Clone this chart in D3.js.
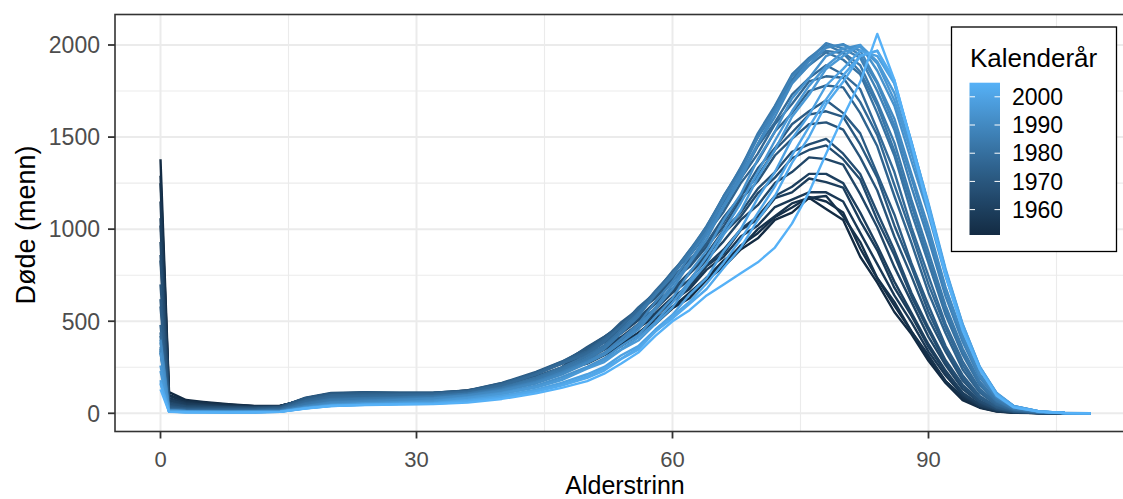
<!DOCTYPE html>
<html>
<head>
<meta charset="utf-8">
<script src="https://cdn.jsdelivr.net/npm/d3@7"></script>
<style>
  body { margin: 0; background: #fff; }
  svg { display: block; font-family: "Liberation Sans", Arial, Helvetica, sans-serif; }
</style>
</head>
<body>
<svg id="chart" width="1123" height="499"></svg>
<script>
// ages the values were read at
const ages = [0,1,3,5,8,11,14,17,20,24,28,32,36,40,44,47,
  50,52,54,56,58,60,62,64,66,68,70,72,74,76,78,80,82,84,86,88,90,92,94,96,98,100,
  103,106,109];

const years = [1951,1953,1954,1957,1959,1960,1963,1965,1966,1969,1971,1972,1975,1977,1978,
  1981,1983,1984,1987,1989,1990,1993,1995,1996,1999,2001,2002,2005];

// deaths (men) per age, one array per calendar year
const deaths1951 = [1380,115,72,62,50,40,40,72,95,100,98,105,125,150,195,235,
  270,315,365,425,485,570,625,725,795,890,950,1050,1090,1170,1110,1050,850,710,550,430,285,165,72,30,10,3, 1,0,0];
const deaths1953 = [1290,100,65,57,47,39,40,74,97,101,99,103,120,146,192,233,
  280,322,372,438,500,580,642,738,808,912,978,1065,1118,1175,1150,1090,895,732,585,445,300,175,82,33,11,4, 1,0,0];
const deaths1954 = [1250,95,62,55,45,38,40,75,98,100,98,102,118,145,190,232,
  285,325,385,435,515,575,655,735,830,900,1000,1070,1140,1170,1180,1070,930,735,605,445,315,175,88,34,12,4, 1,0,0];
const deaths1957 = [1150,82,55,48,40,35,38,76,100,102,100,102,115,140,185,228,
  295,345,395,465,525,610,675,780,850,960,1020,1120,1160,1200,1200,1150,980,810,640,495,335,205,98,41,14,5, 1,0,0];
const deaths1959 = [1060,72,49,44,37,34,37,77,101,104,101,103,114,140,185,228,
  312,356,408,480,536,625,686,800,868,995,1052,1168,1200,1275,1255,1225,1045,885,682,530,360,222,106,45,16,6, 1,0,0];
const deaths1960 = [1020,68,46,42,36,33,37,78,102,105,102,103,114,140,185,228,
  318,365,415,485,545,630,695,805,890,1000,1070,1180,1230,1300,1300,1250,1090,910,715,545,375,232,112,48,17,6, 1,0,0];
const deaths1963 = [930,58,40,37,33,31,36,80,105,108,105,106,116,142,190,235,
  338,385,435,505,565,655,725,835,935,1050,1130,1250,1310,1390,1380,1350,1190,1010,795,605,415,262,132,58,20,7, 2,0,0];
const deaths1965 = [860,52,36,34,31,30,35,81,107,110,107,107,117,146,196,244,
  348,388,458,508,595,662,758,848,978,1068,1195,1280,1385,1430,1455,1380,1270,1050,858,635,450,275,148,64,23,8, 2,0,0];
const deaths1966 = [830,48,34,32,30,29,35,82,108,112,108,108,118,150,200,250,
  352,395,465,515,605,675,765,865,995,1090,1220,1310,1420,1460,1490,1410,1300,1090,885,655,465,288,155,68,25,8, 2,0,0];
const deaths1969 = [700,40,28,27,26,26,33,85,110,115,112,112,122,160,215,268,
  360,415,475,555,625,725,795,905,1015,1160,1260,1400,1490,1570,1580,1540,1390,1210,960,745,515,335,178,80,30,10, 2,1,0];
const deaths1971 = [620,35,25,24,23,24,30,82,107,112,111,112,123,163,220,275,
  355,414,482,566,636,738,810,922,1038,1180,1290,1430,1525,1622,1640,1610,1460,1280,1020,795,550,355,193,88,33,11, 3,1,0];
const deaths1972 = [580,32,24,23,22,23,29,80,105,110,110,112,124,165,225,280,
  352,405,495,565,655,735,835,925,1065,1180,1330,1440,1570,1640,1700,1630,1520,1300,1080,815,585,365,207,94,36,12, 3,1,0];
const deaths1975 = [480,26,20,20,19,19,25,72,98,102,104,108,120,160,220,280,
  338,405,475,575,655,765,855,975,1095,1250,1370,1530,1630,1750,1780,1770,1630,1450,1180,925,655,435,238,113,44,15, 3,1,0];
const deaths1977 = [440,24,18,17,16,17,22,66,90,96,99,103,117,154,214,274,
  328,396,468,568,656,772,865,996,1118,1276,1410,1570,1680,1802,1830,1822,1690,1510,1240,978,700,465,260,124,50,17, 4,1,0];
const deaths1978 = [420,22,17,16,15,16,20,62,85,92,96,100,115,150,210,270,
  322,385,475,555,665,765,885,995,1150,1280,1450,1580,1730,1820,1890,1840,1760,1540,1310,1010,745,485,282,133,55,19, 4,1,0];
const deaths1981 = [360,19,14,13,12,13,17,55,78,84,88,94,108,140,195,250,
  312,368,455,545,655,755,885,1015,1180,1320,1500,1640,1800,1890,1960,1920,1840,1630,1400,1090,815,535,318,153,63,22, 5,1,0];
const deaths1983 = [340,18,13,12,11,12,15,49,73,79,84,90,106,136,186,240,
  300,360,438,540,645,758,872,1018,1172,1335,1500,1665,1810,1925,1968,1955,1855,1672,1425,1132,840,562,334,163,68,24, 5,1,0];
const deaths1984 = [330,17,12,11,10,11,14,45,70,76,82,88,104,132,180,232,
  292,348,435,525,645,745,875,1005,1180,1330,1520,1670,1840,1930,2000,1960,1890,1690,1470,1160,875,585,352,173,73,26, 6,1,0];
const deaths1987 = [350,16,11,10,9,10,12,40,62,70,76,84,100,128,172,222,
  282,328,405,485,605,715,855,985,1160,1310,1500,1650,1830,1920,2010,1980,1930,1750,1540,1230,945,635,388,193,83,30, 7,2,0];
const deaths1989 = [385,17,11,10,9,9,11,37,57,65,72,80,97,123,166,214,
  276,326,388,472,575,698,822,968,1128,1295,1465,1635,1795,1912,1985,2005,1945,1790,1565,1278,975,668,408,205,89,32, 8,2,0];
const deaths1990 = [400,17,11,10,9,9,11,36,55,63,70,78,95,120,162,210,
  272,318,385,455,565,675,815,945,1120,1270,1460,1610,1790,1890,1990,2000,1970,1800,1600,1300,1010,685,424,213,93,34, 8,2,0];
const deaths1993 = [330,14,10,9,8,8,10,32,48,56,62,70,88,112,150,196,
  252,298,365,425,525,625,765,885,1050,1190,1380,1530,1710,1820,1940,1980,2000,1860,1670,1370,1080,745,463,238,103,38, 9,2,0];
const deaths1995 = [260,13,9,8,7,7,9,31,46,54,58,65,83,108,144,186,
  246,290,348,412,495,602,720,850,992,1142,1310,1480,1640,1778,1885,1962,1990,1900,1700,1412,1100,768,474,248,107,39, 10,2,0];
const deaths1996 = [230,12,8,8,7,7,9,30,44,52,56,62,80,105,140,180,
  242,278,345,395,485,575,705,815,970,1100,1280,1430,1610,1730,1870,1940,2000,1910,1740,1430,1120,775,483,253,110,40, 10,2,0];
const deaths1999 = [180,10,7,7,6,7,9,28,42,48,52,56,72,95,128,165,
  212,252,315,365,455,535,645,735,880,1000,1170,1310,1490,1620,1780,1870,1970,1940,1790,1470,1140,785,485,253,106,38, 10,2,0];
const deaths2001 = [168,9,7,6,6,6,8,27,41,47,51,54,67,88,122,156,
  200,244,298,356,444,528,606,705,818,945,1088,1232,1400,1555,1705,1835,1942,1968,1792,1475,1130,775,473,248,103,36, 10,2,0];
const deaths2002 = [160,9,6,6,5,6,8,27,40,46,50,52,64,85,118,150,
  192,232,295,345,445,515,595,675,790,900,1050,1180,1360,1500,1680,1800,1940,1970,1810,1470,1130,765,468,243,101,35, 9,2,0];
const deaths2005 = [130,8,6,5,5,6,8,26,40,45,48,50,58,78,108,138,
  175,215,270,330,420,500,560,640,700,760,820,900,1030,1200,1410,1610,1800,2060,1810,1460,1100,750,450,240,95,32, 9,2,0];

const series = [deaths1951,deaths1953,deaths1954,deaths1957,deaths1959,deaths1960,deaths1963,
  deaths1965,deaths1966,deaths1969,deaths1971,deaths1972,deaths1975,deaths1977,deaths1978,
  deaths1981,deaths1983,deaths1984,deaths1987,deaths1989,deaths1990,deaths1993,deaths1995,
  deaths1996,deaths1999,deaths2001,deaths2002,deaths2005];

const xTicks = [0,30,60,90];
const xMinor = [15,45,75,105];
const yTicks = [0,500,1000,1500,2000];
const yMinor = [250,750,1250,1750];
const legendTicks = [1960,1970,1980,1990,2000];

// panel geometry (right edge runs past the picture)
const panel = {left: 115, top: 14.5, right: 1140, bottom: 431.5};

const svg = d3.select("#chart");
const x = d3.scaleLinear().domain([0, 90]).range([160.5, 928.5]);
const y = d3.scaleLinear().domain([0, 2000]).range([413.3, 45]);
const color = d3.scaleLinear().domain([1951, 2005])
  .range(["#132B43", "#56B1F7"]).interpolate(d3.interpolateLab);

svg.append("rect").attr("width", 1123).attr("height", 499).attr("fill", "#fff");

svg.append("clipPath").attr("id", "clip").append("rect")
  .attr("x", panel.left).attr("y", panel.top)
  .attr("width", panel.right - panel.left).attr("height", panel.bottom - panel.top);

// grid
const grid = svg.append("g");
grid.selectAll(".ymin").data(yMinor).join("line")
  .attr("x1", panel.left).attr("x2", panel.right)
  .attr("y1", d => y(d)).attr("y2", d => y(d))
  .attr("stroke", "#ebebeb").attr("stroke-width", 1.1);
grid.selectAll(".xmin").data(xMinor).join("line")
  .attr("y1", panel.top).attr("y2", panel.bottom)
  .attr("x1", d => x(d)).attr("x2", d => x(d))
  .attr("stroke", "#ebebeb").attr("stroke-width", 1.1);
grid.selectAll(".ymaj").data(yTicks).join("line")
  .attr("x1", panel.left).attr("x2", panel.right)
  .attr("y1", d => y(d)).attr("y2", d => y(d))
  .attr("stroke", "#ebebeb").attr("stroke-width", 2);
grid.selectAll(".xmaj").data(xTicks).join("line")
  .attr("y1", panel.top).attr("y2", panel.bottom)
  .attr("x1", d => x(d)).attr("x2", d => x(d))
  .attr("stroke", "#ebebeb").attr("stroke-width", 2);

// lines, oldest first so newer years sit on top
const line = d3.line().x((d, i) => x(ages[i])).y(d => y(d));
svg.append("g").attr("clip-path", "url(#clip)")
  .selectAll("path").data(series).join("path")
  .attr("d", line)
  .attr("fill", "none")
  .attr("stroke", (d, i) => color(years[i]))
  .attr("stroke-width", 2.4)
  .attr("stroke-linejoin", "round");

// panel border
svg.append("rect")
  .attr("x", panel.left).attr("y", panel.top)
  .attr("width", panel.right - panel.left).attr("height", panel.bottom - panel.top)
  .attr("fill", "none").attr("stroke", "#333").attr("stroke-width", 1.6);

// axes
const tickCol = "#333", labCol = "#4d4d4d";
svg.selectAll(".yt").data(yTicks).join("line")
  .attr("x1", panel.left - 7).attr("x2", panel.left)
  .attr("y1", d => y(d)).attr("y2", d => y(d))
  .attr("stroke", tickCol).attr("stroke-width", 1.8);
svg.selectAll(".yl").data(yTicks).join("text")
  .attr("x", 100).attr("y", d => y(d)).attr("dy", "0.36em")
  .attr("text-anchor", "end").attr("font-size", 23).attr("fill", labCol)
  .text(d => d);
svg.selectAll(".xt").data(xTicks).join("line")
  .attr("y1", panel.bottom).attr("y2", panel.bottom + 7)
  .attr("x1", d => x(d)).attr("x2", d => x(d))
  .attr("stroke", tickCol).attr("stroke-width", 1.8);
svg.selectAll(".xl").data(xTicks).join("text")
  .attr("x", d => x(d)).attr("y", 466.5)
  .attr("text-anchor", "middle").attr("font-size", 22).attr("fill", labCol)
  .text(d => d);

svg.append("text").attr("x", 625).attr("y", 494)
  .attr("text-anchor", "middle").attr("font-size", 25).attr("fill", "#000")
  .text("Alderstrinn");
svg.append("text").attr("transform", "translate(35,225) rotate(-90)")
  .attr("text-anchor", "middle").attr("font-size", 27).attr("fill", "#000")
  .text("Døde (menn)");

// legend
const lg = svg.append("g");
lg.append("rect").attr("x", 951.5).attr("y", 27).attr("width", 165).attr("height", 224.5)
  .attr("fill", "#fff").attr("stroke", "#000").attr("stroke-width", 1.3);
lg.append("text").attr("x", 970).attr("y", 66.5).attr("font-size", 26).attr("fill", "#000")
  .text("Kalenderår");

const ly = d3.scaleLinear().domain([1951, 2005]).range([235, 82.7]);
const grad = svg.append("defs").append("linearGradient").attr("id", "yrgrad")
  .attr("x1", 0).attr("y1", 1).attr("x2", 0).attr("y2", 0);
grad.selectAll("stop").data(d3.range(0, 1.0001, 0.05)).join("stop")
  .attr("offset", d => d)
  .attr("stop-color", d => color(1951 + d * (2005 - 1951)));
lg.append("rect").attr("x", 969.5).attr("y", ly(2005)).attr("width", 30.5)
  .attr("height", ly(1951) - ly(2005)).attr("fill", "url(#yrgrad)");
lg.selectAll(".lt1").data(legendTicks).join("line")
  .attr("x1", 969.5).attr("x2", 975).attr("y1", d => ly(d)).attr("y2", d => ly(d))
  .attr("stroke", "#fff").attr("stroke-width", 1);
lg.selectAll(".lt2").data(legendTicks).join("line")
  .attr("x1", 994.5).attr("x2", 1000).attr("y1", d => ly(d)).attr("y2", d => ly(d))
  .attr("stroke", "#fff").attr("stroke-width", 1);
lg.selectAll(".ll").data(legendTicks).join("text")
  .attr("x", 1012).attr("y", d => ly(d)).attr("dy", "0.36em")
  .attr("font-size", 23).attr("fill", "#000")
  .text(d => d);
</script>
</body>
</html>
